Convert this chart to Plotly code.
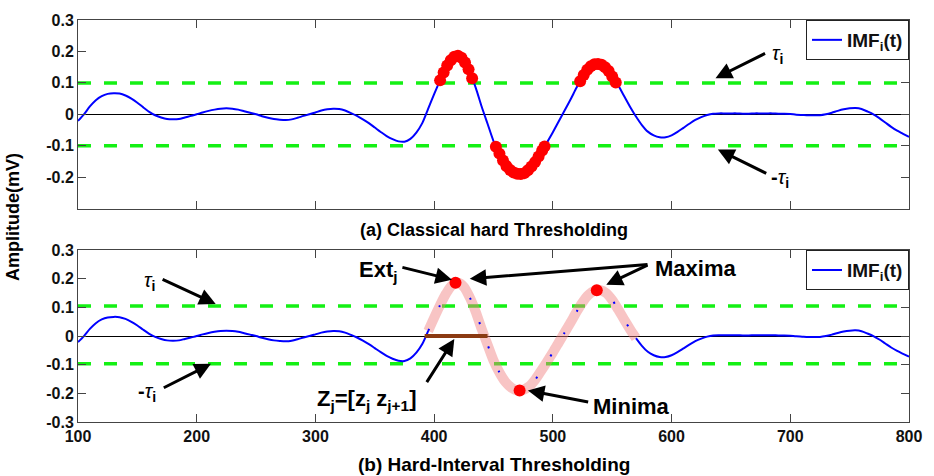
import numpy as np
import plotly.graph_objects as go

# ---------------- data ----------------
t_start, t_step = 100, 5
imf_values = [
    -0.021, 0.000, 0.025, 0.045, 0.058, 0.065, 0.067, 0.066, 0.060, 0.050,
    0.037, 0.022, 0.008, -0.003, -0.010, -0.015, -0.016, -0.015, -0.010, -0.005,
    0.000, 0.006, 0.011, 0.015, 0.018, 0.019, 0.018, 0.015, 0.010, 0.005,
    0.000, -0.006, -0.011, -0.015, -0.017, -0.018, -0.016, -0.011, -0.005, 0.000,
    0.006, 0.012, 0.016, 0.018, 0.017, 0.012, 0.004, -0.005, -0.016, -0.028,
    -0.042, -0.056, -0.069, -0.079, -0.086, -0.087, -0.078, -0.058, -0.028, 0.018,
    0.064, 0.108, 0.148, 0.177, 0.186, 0.172, 0.135, 0.085, 0.025, -0.030,
    -0.085, -0.127, -0.160, -0.180, -0.190, -0.188, -0.176, -0.153, -0.122, -0.090,
    -0.057, -0.022, 0.013, 0.048, 0.085, 0.118, 0.144, 0.158, 0.160, 0.150,
    0.126, 0.093, 0.058, 0.024, -0.007, -0.034, -0.055, -0.067, -0.073, -0.073,
    -0.067, -0.056, -0.043, -0.030, -0.018, -0.009, -0.002, 0.002, 0.003, 0.003,
    0.003, 0.003, 0.002, 0.002, 0.003, 0.003, 0.003, 0.003, 0.002, 0.002,
    0.001, -0.001, -0.002, -0.003, -0.003, -0.003, 0.000, 0.005, 0.011, 0.016,
    0.019, 0.020, 0.017, 0.009, 0.000, -0.012, -0.026, -0.040, -0.052, -0.062,
    -0.072,
]
imf_t = [t_start + t_step * i for i in range(len(imf_values))]

# thresholds
tau_top_pos, tau_top_neg = 0.1, -0.1
tau_bot_pos, tau_bot_neg = 0.105, -0.097

# samples above threshold (panel a)
dots_t = [405, 408, 411, 414, 417, 420, 423, 426, 429, 432,
          452, 455, 458, 461, 464, 467, 470, 473, 476, 479, 482, 485, 488, 491, 493,
          523, 526, 529, 532, 535, 538, 541, 544, 547, 550, 553]
dots_v = [0.108, 0.133, 0.155, 0.172, 0.183, 0.186, 0.180, 0.165, 0.143, 0.115,
          -0.103, -0.125, -0.147, -0.165, -0.177, -0.185, -0.189, -0.190, -0.187,
          -0.178, -0.166, -0.152, -0.134, -0.115, -0.102,
          0.105, 0.125, 0.142, 0.153, 0.159, 0.160, 0.158, 0.150, 0.138, 0.120, 0.101]

# extrema (panel b)
ext_t = [418, 472, 537]
ext_v = [0.186, -0.190, 0.160]

# interval
zj_start, zj_end = 392, 445

x_ticks = [100, 200, 300, 400, 500, 600, 700, 800]
y_ticks_top = [-0.2, -0.1, 0, 0.1, 0.2, 0.3]
y_ticks_bot = [-0.3, -0.2, -0.1, 0, 0.1, 0.2, 0.3]

# ---------------- figure ----------------
FONT = "Liberation Sans, Arial, sans-serif"
BLUE = "#0000ff"
GREEN = "#14f014"
RED = "#ff0000"

fig = go.Figure()
t_arr = np.array(imf_t, dtype=float)
v_arr = np.array(imf_values, dtype=float)

# panel (a)
for tau in (tau_top_pos, tau_top_neg):
    fig.add_trace(go.Scatter(x=[100, 800], y=[tau, tau], mode="lines",
                             line=dict(color=GREEN, width=3.5, dash="13px,13px"),
                             showlegend=False, hoverinfo="skip", xaxis="x", yaxis="y"))
fig.add_trace(go.Scatter(x=imf_t, y=imf_values, mode="lines",
                         line=dict(color=BLUE, width=2, shape="spline", smoothing=0.8),
                         name="IMF<sub>i</sub>(t)", legend="legend", xaxis="x", yaxis="y"))
fig.add_trace(go.Scatter(x=dots_t, y=dots_v, mode="markers",
                         marker=dict(color=RED, size=12, line=dict(width=0)),
                         showlegend=False, xaxis="x", yaxis="y"))

# panel (b)
for tau in (tau_bot_pos, tau_bot_neg):
    fig.add_trace(go.Scatter(x=[100, 800], y=[tau, tau], mode="lines",
                             line=dict(color=GREEN, width=3.5, dash="13px,13px"),
                             showlegend=False, hoverinfo="skip", xaxis="x2", yaxis="y2"))
left = t_arr <= 395
right = t_arr >= 570
inside = (t_arr >= 395) & (t_arr <= 570)
fig.add_trace(go.Scatter(x=t_arr[left], y=v_arr[left], mode="lines",
                         line=dict(color=BLUE, width=2, shape="spline", smoothing=0.8),
                         name="IMF<sub>i</sub>(t)", legend="legend2", xaxis="x2", yaxis="y2"))
fig.add_trace(go.Scatter(x=t_arr[right], y=v_arr[right], mode="lines",
                         line=dict(color=BLUE, width=2, shape="spline", smoothing=0.8),
                         showlegend=False, xaxis="x2", yaxis="y2"))
fig.add_trace(go.Scatter(x=t_arr[inside], y=v_arr[inside], mode="lines",
                         line=dict(color="rgba(240,125,125,0.45)", width=10,
                                   shape="spline", smoothing=0.8),
                         showlegend=False, xaxis="x2", yaxis="y2"))
fig.add_trace(go.Scatter(x=t_arr[inside], y=v_arr[inside], mode="lines",
                         line=dict(color=BLUE, width=2, dash="2px,24px",
                                   shape="spline", smoothing=0.8),
                         showlegend=False, xaxis="x2", yaxis="y2"))
fig.add_trace(go.Scatter(x=[zj_start, zj_end], y=[0, 0], mode="lines",
                         line=dict(color="#8b3a12", width=4),
                         showlegend=False, xaxis="x2", yaxis="y2"))
fig.add_trace(go.Scatter(x=ext_t, y=ext_v, mode="markers",
                         marker=dict(color=RED, size=12, line=dict(width=0)),
                         showlegend=False, xaxis="x2", yaxis="y2"))

axis_common = dict(showline=True, linecolor="#444", linewidth=1, mirror="ticks",
                   ticks="inside", ticklen=8, tickcolor="#444", showgrid=False,
                   tickfont=dict(family=FONT, size=16, color="#111", weight="bold"))


def ytext(vals):
    return [("0" if v == 0 else f"{v:g}") for v in vals]


legend_common = dict(x=1, xanchor="right", yanchor="top", bgcolor="white",
                     bordercolor="#222", borderwidth=1,
                     font=dict(family=FONT, size=19, color="#111", weight="bold"),
                     itemwidth=30, tracegroupgap=0)

fig.update_layout(
    width=934, height=476,
    margin=dict(l=78, r=20, t=15, b=54),
    paper_bgcolor="white", plot_bgcolor="white",
    font=dict(family=FONT, color="#111"),
    xaxis=dict(domain=[0, 1], range=[100, 800], tickvals=x_ticks, showticklabels=False,
               anchor="y", zeroline=False, **axis_common),
    yaxis=dict(domain=[0.5307, 1], range=[-0.3, 0.3], tickvals=y_ticks_top,
               ticktext=ytext(y_ticks_top),
               zeroline=True, zerolinecolor="black", zerolinewidth=1,
               anchor="x", **axis_common),
    xaxis2=dict(domain=[0, 1], range=[100, 800], tickvals=x_ticks,
                ticktext=[str(v) for v in x_ticks], anchor="y2", zeroline=False,
                **axis_common),
    yaxis2=dict(domain=[0, 0.4275], range=[-0.3, 0.3], tickvals=y_ticks_bot,
                ticktext=ytext(y_ticks_bot),
                zeroline=True, zerolinecolor="black", zerolinewidth=1,
                anchor="x2", **axis_common),
    legend=dict(y=1, **legend_common),
    legend2=dict(y=0.4275, **legend_common),
)

annotations = []


def arrow(xref, yref, head, tail):
    annotations.append(dict(xref=xref, yref=yref, axref=xref, ayref=yref,
                            x=head[0], y=head[1], ax=tail[0], ay=tail[1],
                            text="", showarrow=True, arrowhead=2, arrowsize=1.1,
                            arrowwidth=3, arrowcolor="black", standoff=0, startstandoff=0))


def label(xref, yref, pos, text, size=22, bold=True):
    annotations.append(dict(xref=xref, yref=yref, x=pos[0], y=pos[1],
                            text=(f"<b>{text}</b>" if bold else text), showarrow=False,
                            font=dict(family=FONT, size=size, color="black"),
                            xanchor="center", yanchor="middle"))


TAU = "<i>τ</i><sub><b>i</b></sub>"
NTAU = "<b>-</b><i>τ</i><sub><b>i</b></sub>"

# panel (a) annotations
arrow("x", "y", (637, 0.115), (680, 0.196))
label("x", "y", (689, 0.19), TAU, size=20, bold=False)
arrow("x", "y", (639, -0.112), (681, -0.19))
label("x", "y", (691, -0.205), NTAU, size=20, bold=False)

# panel (b) annotations
arrow("x2", "y2", (216, 0.112), (170, 0.2))
label("x2", "y2", (160, 0.19), TAU, size=20, bold=False)
arrow("x2", "y2", (212, -0.097), (171, -0.183))
label("x2", "y2", (158, -0.197), NTAU, size=20, bold=False)
arrow("x2", "y2", (415, 0.197), (372, 0.241))
label("x2", "y2", (353, 0.228), "Ext<sub>j</sub>")
arrow("x2", "y2", (430, 0.2), (581, 0.25))
arrow("x2", "y2", (545, 0.179), (581, 0.25))
label("x2", "y2", (620, 0.236), "Maxima")
arrow("x2", "y2", (479, -0.19), (531, -0.231))
label("x2", "y2", (566, -0.246), "Minima")
arrow("x2", "y2", (417, -0.01), (393, -0.166))
label("x2", "y2", (343, -0.222), "Z<sub>j</sub>=[z<sub>j</sub> z<sub>j+1</sub>]")

# titles
annotations.append(dict(xref="paper", yref="paper", x=0.5, y=0.4767, showarrow=False,
                        text="<b>(a) Classical hard Thresholding</b>",
                        font=dict(family=FONT, size=18, color="black"),
                        xanchor="center", yanchor="middle"))
annotations.append(dict(xref="paper", yref="paper", x=0.5, y=-0.106, showarrow=False,
                        text="<b>(b) Hard-Interval Thresholding</b>",
                        font=dict(family=FONT, size=19, color="black"),
                        xanchor="center", yanchor="middle"))
annotations.append(dict(xref="paper", yref="paper", x=-0.079, y=0.511, showarrow=False,
                        text="<b>Amplitude(mV)</b>", textangle=-90,
                        font=dict(family=FONT, size=18, color="black"),
                        xanchor="center", yanchor="middle"))

fig.update_layout(annotations=annotations)
fig.write_html("out.html")
